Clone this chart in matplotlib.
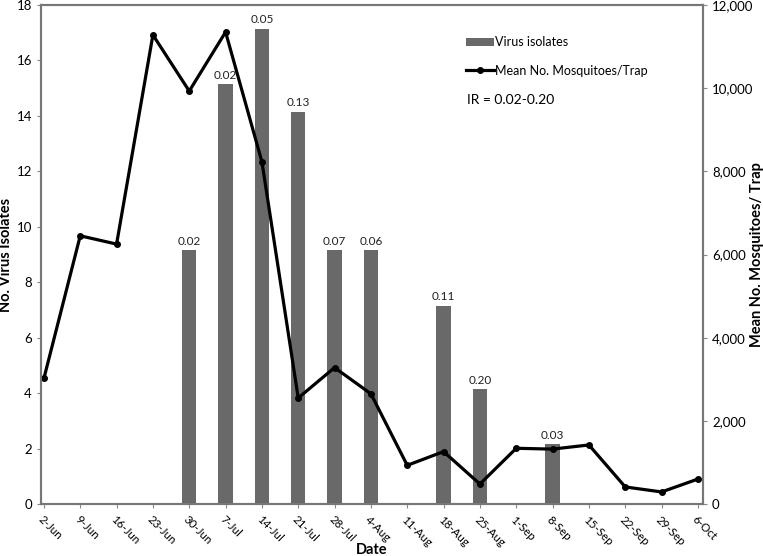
import matplotlib
matplotlib.use('Agg')
import matplotlib.pyplot as plt
import numpy as np

plt.rcParams['font.family'] = ['Lato', 'DejaVu Sans']

dates = ['2-Jun', '9-Jun', '16-Jun', '23-Jun', '30-Jun', '7-Jul', '14-Jul', '21-Jul', '28-Jul',
         '4-Aug', '11-Aug', '18-Aug', '25-Aug', '1-Sep', '8-Sep', '15-Sep', '22-Sep', '29-Sep', '6-Oct']
isolates = [0, 0, 0, 0, 9.15, 15.15, 17.15, 14.15, 9.15, 9.15, 0, 7.15, 4.15, 0, 2.15, 0, 0, 0, 0]
ir_labels = ['', '', '', '', '0.02', '0.02', '0.05', '0.13', '0.07', '0.06', '', '0.11', '0.20', '', '0.03', '', '', '', '']
mosquitoes = [3020, 6450, 6250, 11280, 9930, 11350, 8230, 2550, 3280, 2650,
              930, 1260, 480, 1340, 1320, 1420, 410, 290, 600]

fig = plt.figure(figsize=(7.63, 5.56), dpi=100)
# plot area in pixels: x 41..703, y 5..504
ax = fig.add_axes([41 / 763, 52 / 556, 662 / 763, 499 / 556])
ax2 = ax.twinx()

x = np.arange(len(dates))
bars = ax.bar(x, isolates, width=0.39, color='#696969', label='Virus isolates', zorder=1)
for xi, v, lab in zip(x, isolates, ir_labels):
    if lab:
        ax.text(xi, v + 0.12, lab, ha='center', va='bottom', fontsize=8.5, color='#222222')

line, = ax2.plot(x, mosquitoes, color='black', lw=2.3, marker='o', markersize=4,
                 label='Mean No. Mosquitoes/Trap')

ax.set_xlim(-0.08, 18.14)
ax.set_ylim(0, 18)
ax.set_yticks(range(0, 19, 2))
ax2.set_ylim(0, 12000)
ax2.set_yticks(range(0, 12001, 2000))
ax2.set_yticklabels(['{:,}'.format(t) for t in range(0, 12001, 2000)])

ax.set_xticks(x)
ax.set_xticklabels(dates, rotation=-45, ha='left', rotation_mode='anchor', fontsize=8.3)
ax.tick_params(axis='y', labelsize=9.5, length=3, color='#888888')
ax.tick_params(axis='x', length=3, color='#888888', pad=4)
ax2.tick_params(axis='y', labelsize=9.5, length=3, color='#888888')

for a in (ax, ax2):
    for s in a.spines.values():
        s.set_color('#777777')
        s.set_linewidth(1.5)

ax.set_xlabel('Date', fontsize=10.5, fontweight='bold')
ax.set_ylabel('No. Virus Isolates', fontsize=10.5, fontweight='bold')
ax2.set_ylabel('Mean No. Mosquitoes/ Trap', fontsize=10.5, fontweight='bold')
ax.xaxis.set_label_coords(0.5, -0.079)
ax.yaxis.set_label_coords(-0.042, 0.5)
ax2.yaxis.set_label_coords(1.071, 0.5)

leg = ax.legend([bars, line], ['Virus isolates', 'Mean No. Mosquitoes/Trap'],
                loc='upper left', bbox_to_anchor=(0.642, 0.937), frameon=False,
                fontsize=9, labelspacing=1.3, handlelength=2.2, handletextpad=0.1,
                borderpad=0, borderaxespad=0)
ax.text(0.643, 0.81, 'IR = 0.02-0.20', transform=ax.transAxes, fontsize=10, va='center')

fig.savefig('out.png', dpi=100)
